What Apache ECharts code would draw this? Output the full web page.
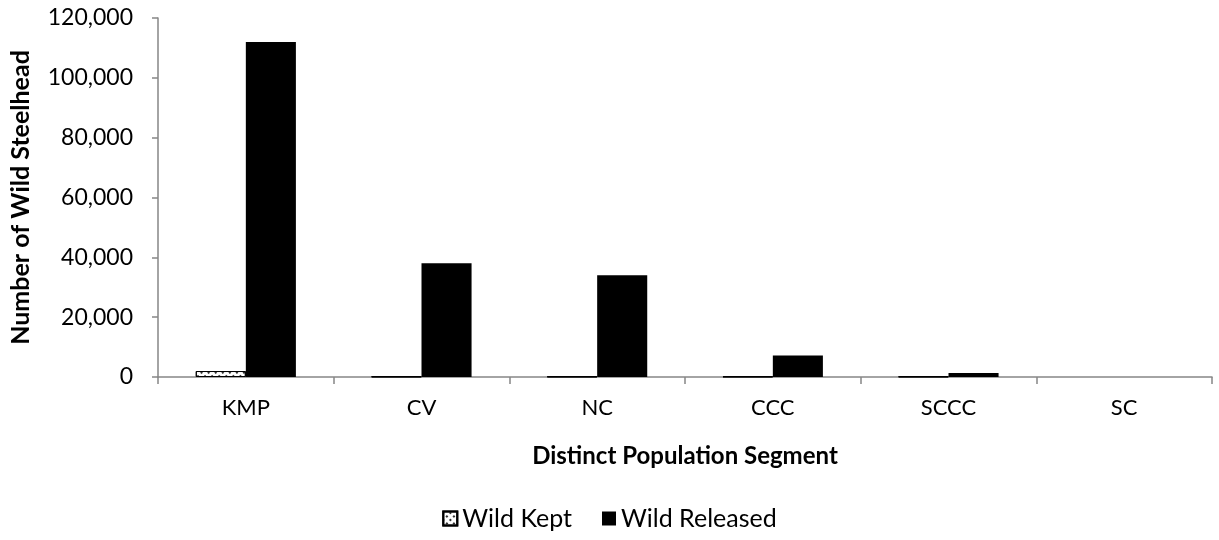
<!DOCTYPE html>
<html>
<head>
<meta charset="utf-8">
<script src="https://cdn.jsdelivr.net/npm/echarts@6/dist/echarts.min.js"></script>
<style>
html,body{margin:0;padding:0;background:#fff;}
#c{width:1219px;height:540px;}
</style>
</head>
<body>
<div id="c"></div>
<script>
const categories = ['KMP', 'CV', 'NC', 'CCC', 'SCCC', 'SC'];
const wildKept = [2000, 150, 150, 150, 150, null];
const wildReleased = [112000, 38000, 34000, 7200, 1300, null];
const yTicks = { min: 0, max: 120000, interval: 20000 };

const FONT = 'Lato, "Open Sans", sans-serif';
const chart = echarts.init(document.getElementById('c'));
chart.setOption({
  animation: false,
  backgroundColor: '#fff',
  textStyle: { fontFamily: FONT },
  grid: { left: 156, right: 7, top: 18, bottom: 163, containLabel: false },
  legend: {
    bottom: 4,
    left: 'center',
    icon: 'rect',
    itemWidth: 14,
    itemHeight: 14,
    itemGap: 30,
    textStyle: { fontFamily: FONT, fontSize: 25, color: '#000' },
    data: ['Wild Kept', 'Wild Released']
  },
  xAxis: {
    type: 'category',
    data: categories,
    name: 'Distinct Population Segment',
    nameLocation: 'middle',
    nameGap: 67,
    nameTextStyle: { fontFamily: FONT, fontSize: 24, fontWeight: 'bold', color: '#000' },
    axisLine: { lineStyle: { color: '#868686', width: 1.5 } },
    axisTick: { show: true, length: 7, lineStyle: { color: '#868686', width: 1.5 } },
    axisLabel: { fontFamily: FONT, fontSize: 22, color: '#000', margin: 20 }
  },
  yAxis: {
    type: 'value',
    min: yTicks.min,
    max: yTicks.max,
    interval: yTicks.interval,
    name: 'Number of Wild Steelhead',
    nameLocation: 'middle',
    nameGap: 125,
    nameRotate: 90,
    nameTextStyle: { fontFamily: FONT, fontSize: 25, fontWeight: 'bold', color: '#000' },
    splitLine: { show: false },
    axisLine: { show: true, lineStyle: { color: '#868686', width: 1.5 } },
    axisTick: { show: true, length: 6, lineStyle: { color: '#868686', width: 1.5 } },
    axisLabel: {
      fontFamily: FONT, fontSize: 23, color: '#000', margin: 25,
      formatter: v => v.toLocaleString('en-US')
    }
  },
  series: [
    {
      name: 'Wild Kept',
      type: 'bar',
      data: wildKept,
      barGap: '0%',
      barCategoryGap: '43%',
      itemStyle: {
        color: '#fff',
        borderColor: '#000',
        borderWidth: 1,
        decal: {
          color: '#333',
          symbol: 'rect',
          symbolSize: 1,
          dashArrayX: [2, 3],
          dashArrayY: [2, 3],
          rotation: Math.PI / 4
        }
      }
    },
    {
      name: 'Wild Released',
      type: 'bar',
      data: wildReleased,
      barGap: '0%',
      barCategoryGap: '43%',
      itemStyle: { color: '#000' }
    }
  ]
});
</script>
</body>
</html>
